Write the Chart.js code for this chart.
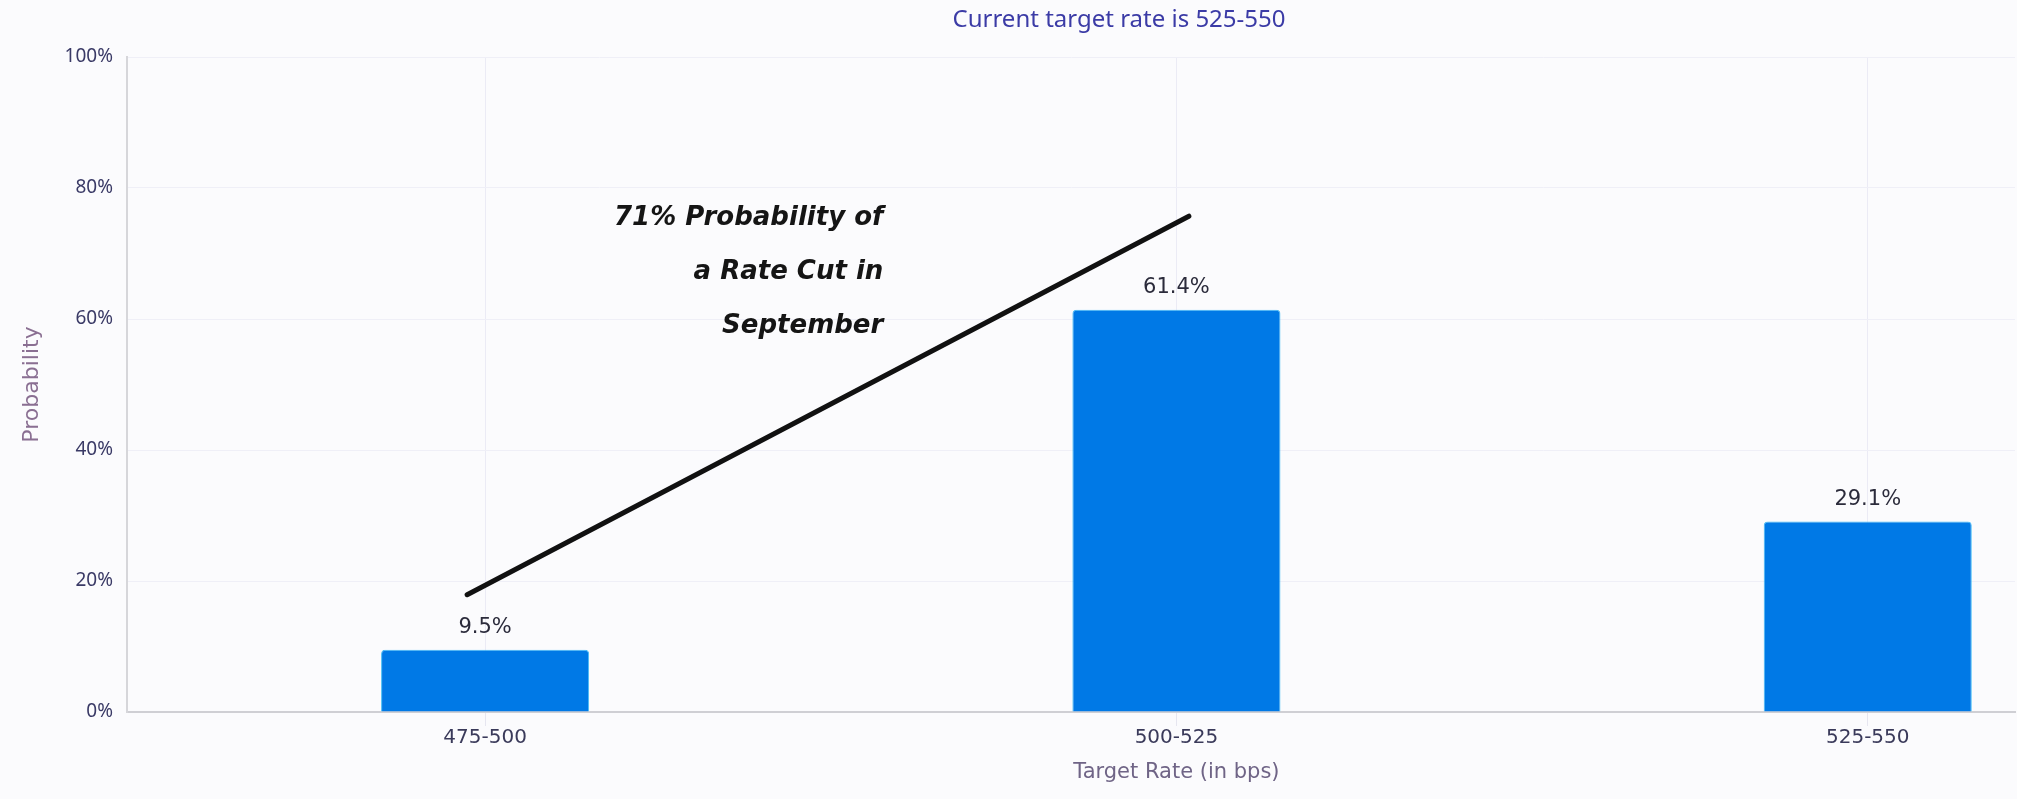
<!DOCTYPE html>
<html>
<head>
<meta charset="utf-8">
<script src="https://cdn.jsdelivr.net/npm/chart.js@4.4.1/dist/chart.umd.min.js"></script>
<style>
  html, body { margin: 0; padding: 0; background: #fbfbfd; overflow: hidden; }
  #wrap { width: 2017px; height: 799px; position: relative; }
</style>
</head>
<body>
<div id="wrap"><canvas id="myChart"></canvas></div>
<script>
var categories = ['475-500', '500-525', '525-550'];
var probabilities = [9.5, 61.4, 29.1];
var yTicks = [0, 20, 40, 60, 80, 100];
var chartTitle = 'Current target rate is 525-550';
var xTitle = 'Target Rate (in bps)';

// hand-drawn note: line from [x index, y %] to [x index, y %]
var noteLine = [[-0.026, 17.9], [1.018, 75.7]];
var noteText = ['71% Probability of', 'a Rate Cut in', 'September'];
var noteAnchor = [0.576, 75.4];

var points = probabilities.map(function (v, i) { return { x: i, y: v }; });

var valueLabels = {
    id: 'valueLabels',
    afterDatasetsDraw: function (chart) {
        var ctx = chart.ctx;
        var meta = chart.getDatasetMeta(0);
        ctx.save();
        ctx.font = '21px "DejaVu Sans"';
        ctx.fillStyle = '#2b2b3b';
        ctx.textAlign = 'center';
        ctx.textBaseline = 'middle';
        meta.data.forEach(function (bar, i) {
            ctx.fillText(probabilities[i] + '%', bar.x, bar.y - 22);
        });
        ctx.restore();
    }
};

// titles sit off-centre in the original (it was cropped on the right)
var titles = {
    id: 'titles',
    afterDraw: function (chart) {
        var ctx = chart.ctx;
        var xs = chart.scales.x;
        ctx.save();
        ctx.textAlign = 'center';
        ctx.textBaseline = 'middle';
        ctx.font = '24px "Noto Sans"';
        ctx.fillStyle = '#3b3ba6';
        ctx.fillText(chartTitle, 1119, 20);
        ctx.font = '21px "DejaVu Sans"';
        ctx.fillStyle = '#6f6486';
        ctx.fillText(xTitle, xs.getPixelForValue(1), 773);
        ctx.restore();
    }
};

var note = {
    id: 'note',
    afterDraw: function (chart) {
        var ctx = chart.ctx;
        var xs = chart.scales.x, ys = chart.scales.y;
        ctx.save();
        ctx.strokeStyle = '#111';
        ctx.lineWidth = 5;
        ctx.lineCap = 'round';
        ctx.beginPath();
        ctx.moveTo(xs.getPixelForValue(noteLine[0][0]), ys.getPixelForValue(noteLine[0][1]));
        ctx.lineTo(xs.getPixelForValue(noteLine[1][0]), ys.getPixelForValue(noteLine[1][1]));
        ctx.stroke();
        ctx.font = 'italic bold 26px "Comic Sans MS", "DejaVu Sans"';
        ctx.fillStyle = '#151515';
        ctx.textAlign = 'right';
        ctx.textBaseline = 'middle';
        var tx = xs.getPixelForValue(noteAnchor[0]);
        var ty = ys.getPixelForValue(noteAnchor[1]);
        noteText.forEach(function (t, i) {
            ctx.fillText(t, tx, ty + i * 54);
        });
        ctx.restore();
    }
};

var ctx = document.getElementById('myChart').getContext('2d');
var myChart = new Chart(ctx, {
    type: 'bar',
    data: {
        datasets: [{
            label: 'Probability',
            data: points,
            backgroundColor: '#0079e6',
            borderColor: '#45bdf5',
            borderWidth: 1,
            borderRadius: { topLeft: 4, topRight: 4 },
            borderSkipped: 'bottom',
            barPercentage: 0.301,
            categoryPercentage: 1
        }]
    },
    options: {
        responsive: true,
        maintainAspectRatio: false,
        devicePixelRatio: 1,
        animation: false,
        layout: { padding: { left: 0, right: 2, top: 57, bottom: 0 } },
        plugins: {
            legend: { display: false },
            tooltip: { enabled: false },
            title: { display: false }
        },
        scales: {
            x: {
                type: 'linear',
                offset: false,
                min: -0.518,
                max: 2.213,
                afterBuildTicks: function (scale) {
                    scale.ticks = categories.map(function (c, i) { return { value: i }; });
                },
                afterFit: function (scale) { scale.height = 87; },
                ticks: {
                    color: '#3a3a5a',
                    font: { family: '"DejaVu Sans"', size: 20 },
                    padding: 0,
                    callback: function (v) { return categories[v]; }
                },
                grid: { offset: false, color: '#ebebf5', tickLength: 14, tickColor: '#e6e6f0' },
                border: { color: '#cfcfd4', width: 2 }
            },
            y: {
                min: 0,
                max: 100,
                afterBuildTicks: function (scale) {
                    scale.ticks = yTicks.map(function (v) { return { value: v }; });
                },
                afterFit: function (scale) { scale.width = 127; },
                ticks: {
                    color: '#3a3a66',
                    font: { family: '"Noto Sans"', size: 19 },
                    padding: 14,
                    callback: function (v) { return v + '%'; }
                },
                grid: { color: '#efeff7', drawTicks: false },
                border: { color: '#d6d6da', width: 2 },
                title: {
                    display: true,
                    text: 'Probability',
                    color: '#8a6f92',
                    font: { family: '"DejaVu Sans"', size: 22 },
                    padding: { top: 19, bottom: 0 }
                }
            }
        }
    },
    plugins: [valueLabels, titles, note]
});
</script>
</body>
</html>
